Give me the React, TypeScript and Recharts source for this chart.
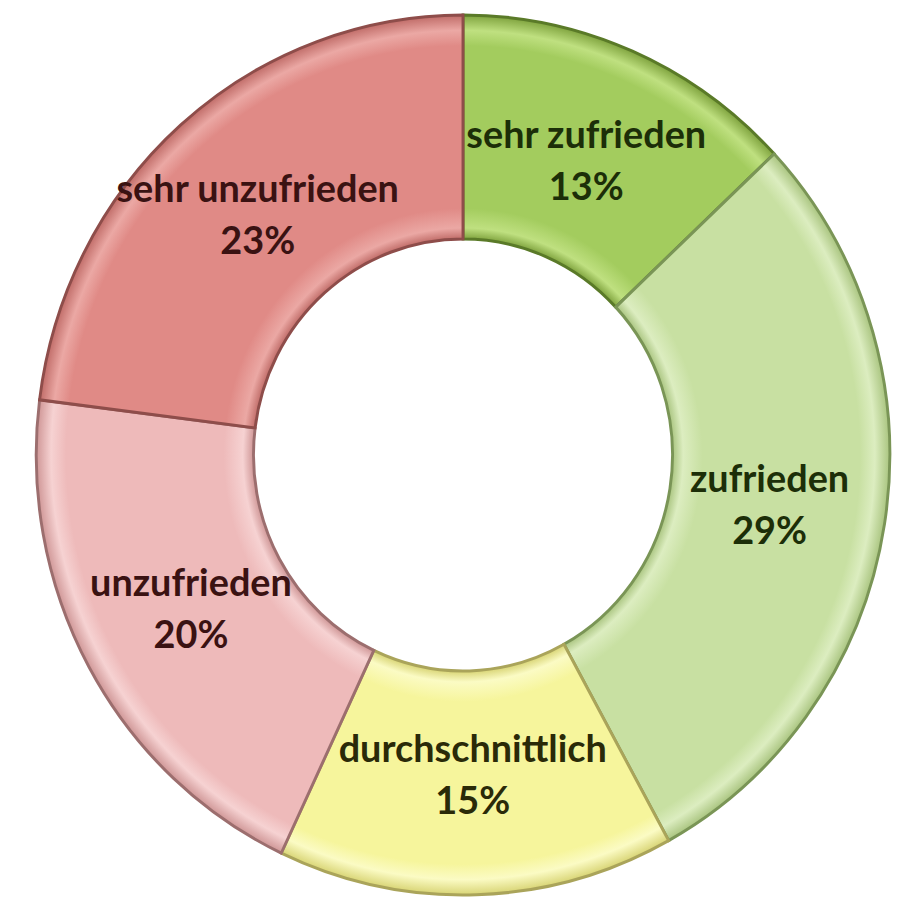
import React from "react";
import { PieChart, Pie, Cell } from "recharts";

const categories = ["sehr zufrieden", "zufrieden", "durchschnittlich", "unzufrieden", "sehr unzufrieden"];
const values = [13, 29, 15, 20, 23];
const colors = ["#a3cc5e", "#c8e0a2", "#f6f59c", "#eebaba", "#e08a86"];
const edgeColors = ["#7fa33e", "#a9c47f", "#d8d474", "#cf9696", "#c06c68"];
const lightColors = ["#bfe080", "#dcedc0", "#fbfbc4", "#f6d2d2", "#eba8a4"];
const strokes = ["#5a7a28", "#7a9556", "#aaa45a", "#9c6e6e", "#8e4d4a"];
const textColors = ["#1c2e08", "#1c2e08", "#2a2a08", "#3a1212", "#3a1212"];

const data = categories.map((name, i) => ({ name, value: values[i] }));

const RAD = Math.PI / 180;
const CX = 463;
const CY = 455;
const OUTER = 440;
const INNER = 216;

const renderLabel = (props: any) => {
  const { cx, cy, midAngle, index, value } = props;
  const r = 320;
  const x = cx + r * Math.cos(-midAngle * RAD);
  const y = cy + r * Math.sin(-midAngle * RAD);
  return (
    <text
      x={x}
      y={y}
      textAnchor="middle"
      fill={textColors[index]}
      style={{ fontFamily: "Lato, sans-serif", fontSize: 39, fontWeight: 700 }}
    >
      <tspan x={x} dy={-13}>{categories[index]}</tspan>
      <tspan x={x} dy={52}>{value}%</tspan>
    </text>
  );
};

export default function App() {
  const innerStop = INNER / OUTER;
  return (
    <div style={{ position: "absolute", left: 0, top: 0, width: 918, height: 900, background: "#fff", overflow: "hidden" }}>
      <svg width={0} height={0} style={{ position: "absolute" }}>
        <defs>
          {colors.map((c, i) => (
            <radialGradient key={i} id={`g${i}`} gradientUnits="userSpaceOnUse" cx={CX} cy={CY} r={OUTER}>
              <stop offset={innerStop} stopColor={edgeColors[i]} />
              <stop offset={innerStop + 0.025} stopColor={lightColors[i]} />
              <stop offset={innerStop + 0.07} stopColor={c} />
              <stop offset={0.93} stopColor={c} />
              <stop offset={0.965} stopColor={lightColors[i]} />
              <stop offset={1} stopColor={edgeColors[i]} />
            </radialGradient>
          ))}
        </defs>
      </svg>
      <div style={{ transform: "scaleX(0.97)", transformOrigin: `${CX}px ${CY}px`, width: 918, height: 900 }}>
        <PieChart width={918} height={900} margin={{ top: 0, right: 0, bottom: 0, left: 0 }}>
          <Pie
            data={data}
            dataKey="value"
            nameKey="name"
            cx={CX}
            cy={CY}
            innerRadius={INNER}
            outerRadius={OUTER}
            startAngle={90}
            endAngle={-270}
            label={renderLabel}
            labelLine={false}
            isAnimationActive={false}
          >
            {data.map((d, i) => (
              <Cell key={d.name} fill={`url(#g${i})`} stroke={strokes[i]} strokeWidth={3} />
            ))}
          </Pie>
        </PieChart>
      </div>
    </div>
  );
}
